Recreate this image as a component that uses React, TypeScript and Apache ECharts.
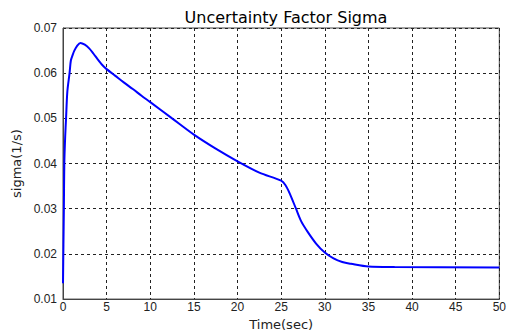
import React, { useEffect, useRef } from "react";
import * as echarts from "echarts";

const timeSec: number[] = [
  0, 0.05, 0.1, 0.15, 0.25, 0.35, 0.5, 0.75, 0.9, 1.1, 1.3, 1.6, 2.0, 2.5, 3.0, 3.5, 4.0, 4.5, 5, 6, 7, 8, 9, 10,
  12.5, 15, 17.5, 20, 22.5, 25, 25.5, 26, 26.7, 27.3, 28, 29, 30, 31, 32, 33, 35, 38, 50,
];
const sigmaValues: number[] = [
  0.0135, 0.022, 0.03, 0.04, 0.046, 0.05, 0.056, 0.06, 0.0628, 0.064, 0.065, 0.066, 0.0667, 0.0663, 0.0655,
  0.0643, 0.063, 0.0618, 0.0609, 0.0594, 0.0579, 0.0565, 0.055, 0.0536, 0.05, 0.0464, 0.0433, 0.0405, 0.038,
  0.0362, 0.0352, 0.0333, 0.03, 0.0272, 0.025, 0.0223, 0.0203, 0.019, 0.0182, 0.0178, 0.0172, 0.0171, 0.017,
];

const titleText = "Uncertainty Factor Sigma";
const xName = "Time(sec)";
const yName = "sigma(1/s)";

export default function App() {
  const ref = useRef<HTMLDivElement>(null);
  useEffect(() => {
    if (!ref.current) return;
    const chart = echarts.init(ref.current, undefined, { renderer: "svg" });
    const font = "Liberation Sans, Arial, sans-serif";
    const wide = "DejaVu Sans, sans-serif";
    chart.setOption({
      animation: false,
      backgroundColor: "#ffffff",
      title: {
        text: titleText,
        left: 281,
        textAlign: "center",
        top: 4,
        textStyle: { fontFamily: wide, fontSize: 16, fontWeight: "normal", color: "#000" },
      },
      grid: { left: 63, right: 9, top: 28, bottom: 33, show: true, borderColor: "#444", borderWidth: 1 },
      xAxis: {
        type: "value",
        min: 0,
        max: 50,
        interval: 5,
        name: xName,
        nameLocation: "middle",
        nameGap: 14,
        nameTextStyle: { fontFamily: wide, fontSize: 13, color: "#222" },
        axisLine: { show: true, lineStyle: { color: "#444" } },
        axisTick: { show: false },
        axisLabel: { fontFamily: font, fontSize: 12, color: "#222", margin: 2 },
        splitLine: { show: true, lineStyle: { color: "#222", type: [3, 3], width: 1 } },
      },
      yAxis: {
        type: "value",
        min: 0.01,
        max: 0.07,
        interval: 0.01,
        name: yName,
        nameLocation: "middle",
        nameGap: 36,
        nameTextStyle: { fontFamily: wide, fontSize: 13, color: "#222" },
        axisLine: { show: true, lineStyle: { color: "#444" } },
        axisTick: { show: false },
        axisLabel: {
          fontFamily: font,
          fontSize: 12,
          color: "#222",
          margin: 6,
          formatter: (v: number) => v.toFixed(2),
        },
        splitLine: { show: true, lineStyle: { color: "#222", type: [3, 3], width: 1 } },
      },
      series: [
        {
          type: "line",
          data: timeSec.map((t, i) => [t, sigmaValues[i]]),
          showSymbol: false,
          smooth: 0.3,
          lineStyle: { color: "#0000ff", width: 2 },
          itemStyle: { color: "#0000ff" },
        },
      ],
    });
    return () => chart.dispose();
  }, []);
  return (
    <div
      ref={ref}
      style={{ position: "absolute", left: 0, top: 0, width: 509, height: 336 }}
    />
  );
}
